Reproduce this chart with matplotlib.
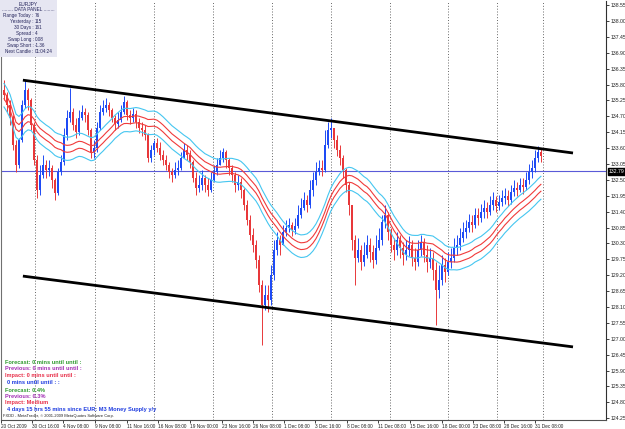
import matplotlib
matplotlib.use('Agg')
import matplotlib.pyplot as plt
from matplotlib.patches import Rectangle
import matplotlib.transforms as mtransforms
import numpy as np
import pandas as pd

W, H = 625, 429

BULL = '#1E4BF5'
BEAR = '#E8383A'
MA_RED = '#F03A3A'
ENV_CYAN = '#45C6F0'
PANEL_BG = '#E6E6F2'
PANEL_TXT = '#23235A'

plt.rcParams['font.family'] = ['Liberation Sans', 'DejaVu Sans']

# EURJPY H4 candles (price)
first_open = 135.60
closes = [
    135.43, 135.09, 134.64, 133.70, 133.01, 133.88, 135.09, 135.61, 135.26, 134.40,
    133.19, 132.15, 132.67, 133.01, 132.84, 132.91, 132.49, 132.05, 132.77, 133.12,
    134.05, 134.64, 134.85, 134.40, 134.16, 134.64, 134.85, 134.74, 134.23, 133.46,
    133.60, 134.29, 134.85, 134.98, 135.09, 134.92, 134.64, 134.43, 134.57, 134.85,
    135.19, 134.74, 134.64, 134.78, 134.50, 134.29, 134.23, 134.05, 133.26, 133.53,
    133.77, 133.60, 133.36, 133.19, 133.01, 132.77, 132.67, 132.84, 132.91, 133.26,
    133.53, 133.36, 133.12, 132.56, 132.22, 132.32, 132.56, 132.32, 132.15, 132.49,
    132.77, 133.01, 133.26, 133.46, 133.19, 132.91, 132.67, 132.32, 132.43, 132.15,
    131.63, 131.11, 130.59, 130.25, 129.73, 128.86, 128.17, 128.52, 128.34, 129.21,
    130.07, 130.42, 130.25, 130.70, 130.83, 130.94, 130.77, 130.90, 131.28, 131.53,
    131.80, 131.63, 132.15, 132.49, 132.77, 132.91, 132.84, 133.70, 134.23, 134.29,
    133.88, 133.53, 133.26, 132.84, 132.32, 131.63, 130.42, 129.80, 130.07, 129.66,
    129.90, 130.25, 130.00, 129.73, 130.14, 130.42, 131.04, 131.28, 130.70, 130.25,
    130.07, 130.42, 130.14, 129.90, 130.07, 130.25, 129.80, 129.66, 130.07, 130.35,
    129.90, 129.66, 129.80, 129.38, 128.69, 129.03, 129.55, 129.31, 129.66, 129.80,
    130.14, 130.25, 130.49, 130.70, 130.83, 131.04, 130.94, 131.28, 131.18, 131.39,
    131.53, 131.39, 131.63, 131.80, 131.60, 131.73, 131.87, 131.94, 131.80, 132.08,
    132.22, 132.15, 132.32, 132.25, 132.49, 132.77, 132.91, 133.26, 133.46, 133.32,
]
highs = [
    135.95, 135.54, 135.26, 134.74, 133.88, 133.95, 135.26, 135.95, 135.68, 135.33,
    134.50, 133.36, 133.01, 133.36, 133.19, 133.19, 133.01, 132.56, 132.91, 133.36,
    134.29, 134.92, 135.68, 134.98, 134.64, 134.92, 135.09, 134.98, 134.85, 134.29,
    133.88, 134.50, 135.09, 135.26, 135.33, 135.19, 134.98, 134.74, 134.85, 135.09,
    135.40, 135.26, 134.92, 134.98, 134.92, 134.64, 134.50, 134.40, 134.12, 133.70,
    133.88, 133.95, 133.81, 133.53, 133.36, 133.12, 132.91, 133.12, 133.19, 133.46,
    133.77, 133.70, 133.53, 133.19, 132.77, 132.67, 132.84, 132.67, 132.56, 132.77,
    133.01, 133.26, 133.53, 133.60, 133.53, 133.26, 133.01, 132.77, 132.67, 132.56,
    132.22, 131.80, 131.28, 130.83, 130.42, 129.90, 129.03, 128.86, 128.86, 129.55,
    130.42, 130.70, 130.59, 130.94, 131.11, 131.18, 131.04, 131.18, 131.63, 131.87,
    132.08, 131.98, 132.49, 132.77, 133.12, 133.19, 133.19, 134.23, 134.50, 134.64,
    134.23, 134.05, 133.70, 133.36, 132.91, 132.43, 131.63, 130.59, 130.49, 130.25,
    130.35, 130.59, 130.49, 130.25, 130.59, 130.83, 131.28, 131.63, 131.39, 130.83,
    130.49, 130.70, 130.59, 130.35, 130.42, 130.56, 130.42, 130.14, 130.42, 130.59,
    130.49, 130.25, 130.14, 130.00, 129.66, 129.55, 129.90, 129.80, 130.00, 130.14,
    130.49, 130.59, 130.83, 131.04, 131.11, 131.32, 131.28, 131.53, 131.53, 131.66,
    131.80, 131.73, 131.94, 132.08, 131.94, 131.98, 132.15, 132.22, 132.15, 132.32,
    132.49, 132.43, 132.56, 132.56, 132.77, 133.05, 133.19, 133.53, 133.67, 133.60,
]
lows = [
    135.26, 134.85, 134.40, 133.53, 132.77, 132.91, 133.81, 134.98, 134.92, 134.23,
    133.01, 131.87, 131.98, 132.56, 132.56, 132.63, 132.22, 131.80, 131.98, 132.67,
    133.01, 133.88, 134.50, 134.23, 133.95, 134.05, 134.57, 134.50, 134.05, 133.26,
    133.26, 133.46, 134.23, 134.74, 134.85, 134.71, 134.50, 134.23, 134.29, 134.50,
    134.78, 134.57, 134.43, 134.50, 134.29, 134.12, 134.02, 133.88, 133.12, 133.12,
    133.36, 133.46, 133.19, 133.01, 132.84, 132.56, 132.43, 132.56, 132.67, 132.84,
    133.26, 133.19, 132.91, 132.43, 131.98, 132.08, 132.15, 132.08, 131.94, 132.08,
    132.43, 132.67, 133.01, 133.12, 132.91, 132.67, 132.43, 132.08, 132.15, 131.87,
    131.46, 130.94, 130.42, 130.00, 129.45, 128.62, 126.79, 128.00, 127.93, 128.17,
    129.03, 129.90, 129.90, 130.42, 130.56, 130.70, 130.56, 130.63, 130.83, 131.18,
    131.46, 131.39, 131.53, 131.94, 132.32, 132.67, 132.63, 132.77, 133.60, 133.95,
    133.60, 133.32, 133.01, 132.56, 132.08, 131.28, 130.07, 128.86, 129.66, 129.38,
    129.52, 129.80, 129.66, 129.45, 129.59, 130.07, 130.25, 130.83, 130.42, 130.00,
    129.73, 129.90, 129.80, 129.55, 129.73, 129.86, 129.52, 129.38, 129.52, 129.86,
    129.66, 129.31, 129.45, 129.03, 127.48, 128.41, 128.86, 128.97, 129.21, 129.45,
    129.66, 129.90, 130.07, 130.35, 130.49, 130.70, 130.70, 130.83, 130.94, 131.04,
    131.18, 131.18, 131.28, 131.46, 131.39, 131.46, 131.60, 131.66, 131.60, 131.66,
    131.94, 131.94, 132.08, 132.01, 132.15, 132.36, 132.56, 132.77, 133.12, 133.12,
]

# channel lines: (bar, price) anchors
upper_bars, upper_prices = [6.3, 189.7], [135.95, 133.43]
lower_bars, lower_prices = [6.3, 189.7], [129.17, 126.72]

current_price = 132.79
price_ticks = [138.55, 138.00, 137.45, 136.90, 136.35, 135.80, 135.25, 134.70, 134.15,
               133.60, 133.05, 132.50, 131.95, 131.40, 130.85, 130.30, 129.75, 129.20,
               128.65, 128.10, 127.55, 127.00, 126.45, 125.90, 125.35, 124.80, 124.25]

time_labels = ['20 Oct 2009', '30 Oct 16:00', '4 Nov 08:00', '9 Nov 08:00', '11 Nov 16:00',
               '16 Nov 08:00', '19 Nov 00:00', '23 Nov 16:00', '26 Nov 08:00', '1 Dec 08:00',
               '3 Dec 16:00', '8 Dec 08:00', '11 Dec 08:00', '15 Dec 16:00', '18 Dec 00:00',
               '23 Dec 08:00', '28 Dec 16:00', '31 Dec 08:00']
time_label_bars = [-1.0, 9.3, 19.7, 30.3, 41.0, 51.3, 62.0, 72.7, 83.0, 93.3,
                   103.7, 114.3, 124.7, 135.3, 146.0, 156.3, 166.7, 177.0]
separator_bars = [10.3, 30.3, 50.0, 69.7, 89.3, 109.0, 128.7, 148.0, 164.3, 179.7]

panel_rows = [('Range Today :', '76'), ('Yesterday :', '115'), ('30 Days :', '161'),
              ('Spread :', '4'), ('Swap Long :', '0.08'), ('Swap Short :', '-1.36'),
              ('Next Candle :', '01:04:24')]

news_lines = [
    ('Forecast: 0 mins until until :', '#2E9A2E', 5),
    ('Previous: 0 mins until until :', '#A22EB4', 5),
    ('Impact: 0 mins until until :', '#E8304A', 5),
    ('0 mins until until : :', '#1E3CE0', 7),
    ('Forecast: 0.4%', '#2E9A2E', 5),
    ('Previous: 0.3%', '#A22EB4', 5),
    ('Impact: Medium', '#E8304A', 5),
    ('4 days 15 hrs 55 mins since EUR: M3 Money Supply y/y', '#1E3CE0', 7),
]
news_y = [362, 368.5, 375, 382, 390, 396, 402.5, 409]


def fx(x, y):
    return x / W, 1 - y / H


fig = plt.figure(figsize=(W / 100, H / 100), dpi=100)
fig.patch.set_facecolor('white')
ax = fig.add_axes([1 / W, 9 / H, 605 / W, 419 / H])
ax.set_facecolor('white')

# candles
c = np.array(closes)
o = np.concatenate([[first_open], c[:-1]])
hi = np.maximum(np.array(highs), np.maximum(o, c))
lo = np.minimum(np.array(lows), np.minimum(o, c))
xb = np.arange(len(c))
cols = np.where(c >= o, BULL, BEAR)
ax.vlines(xb, lo, hi, colors=cols, lw=0.7, zorder=3)
ax.bar(xb, np.maximum(np.abs(c - o), 0.03), bottom=np.minimum(o, c), width=0.72,
       color=cols, linewidth=0, zorder=3)

# moving average envelopes
ma = pd.Series(closes).rolling(20, min_periods=1).mean()
ax.plot(xb, ma * 1.0009, color=MA_RED, lw=0.8, zorder=4)
ax.plot(xb, ma * 0.9991, color=MA_RED, lw=0.8, zorder=4)
ax.plot(xb, ma * 1.003, color=ENV_CYAN, lw=0.8, zorder=4)
ax.plot(xb, ma * 0.997, color=ENV_CYAN, lw=0.8, zorder=4)

# channel
ax.plot(upper_bars, upper_prices, color='black', lw=2, zorder=5, solid_capstyle='butt')
ax.plot(lower_bars, lower_prices, color='black', lw=2, zorder=5, solid_capstyle='butt')

# period separators and price line
for sb in separator_bars:
    ax.axvline(sb, color='#555555', lw=0.6, ls=(0, (1.2, 2.2)), zorder=1)
ax.axhline(current_price, color='#5A5AD8', lw=0.8, zorder=2)

ax.set_xlim(-1.0, 200.7)
ax.set_ylim(124.19, 138.69)

# axes styling
ax.spines['top'].set_visible(False)
ax.spines['right'].set_color('#303030')
ax.spines['left'].set_color('#707070')
ax.spines['bottom'].set_color('#505050')
for s in ax.spines.values():
    s.set_linewidth(0.8)

ax.yaxis.tick_right()
ax.set_yticks(price_ticks, [f'{p:.2f}' for p in price_ticks])
ax.tick_params(axis='y', direction='out', length=2, width=0.6, pad=1, labelsize=3.7,
               colors='#202020')
ax.set_xticks(time_label_bars, time_labels)
ax.tick_params(axis='x', direction='out', length=2, width=0.6, pad=0.8, labelsize=3.4,
               colors='#202020')
plt.setp(ax.get_xticklabels(), ha='left')

# current price marker
trans = mtransforms.blended_transform_factory(ax.transAxes, ax.transData)
ax.text(1.004, current_price, f'{current_price:.2f}', transform=trans, ha='left',
        va='center', fontsize=3.7, color='white', zorder=6,
        bbox=dict(boxstyle='square,pad=0.15', facecolor='black', edgecolor='black'))

# data panel
fig.patches.append(Rectangle(fx(0, 57), 57 / W, 57 / H, transform=fig.transFigure,
                             facecolor=PANEL_BG, edgecolor='none', zorder=10))
fig.text(*fx(28, 4), 'EURJPY', ha='center', va='center', fontsize=3.5,
         color=PANEL_TXT, zorder=11)
fig.text(*fx(28, 9.5), '........ DATA PANEL ........', ha='center', va='center',
         fontsize=3.4, color=PANEL_TXT, zorder=11)
for i, (lab, val) in enumerate(panel_rows):
    yy = 15.5 + i * 6
    fig.text(*fx(33.5, yy), lab, ha='right', va='center', fontsize=3.3,
             color=PANEL_TXT, zorder=11)
    fig.text(*fx(35, yy), val, ha='left', va='center', fontsize=3.3,
             color=PANEL_TXT, zorder=11)

# news block
for (txt, col, x0), yy in zip(news_lines, news_y):
    fig.text(*fx(x0, yy), txt, ha='left', va='center', fontsize=4.1,
             fontweight='bold', color=col, zorder=11)
fig.text(*fx(3, 416), 'FXDD - MetaTrader, \u00a9 2001-2009 MetaQuotes Software Corp.',
         ha='left', va='center', fontsize=2.9, color='#202020', zorder=11)

fig.savefig('out.png', dpi=100, facecolor='white')
